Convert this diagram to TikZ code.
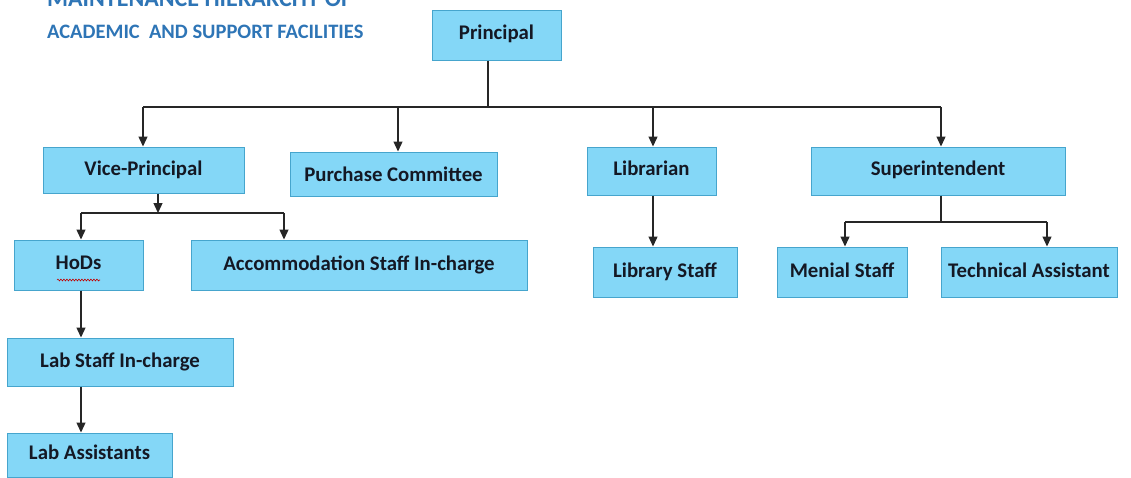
\documentclass[tikz,border=0pt]{standalone}
\usepackage{fontspec}
\setmainfont{Carlito}
\usetikzlibrary{arrows.meta,decorations.pathmorphing}
\definecolor{boxfill}{RGB}{132,215,247}
\definecolor{boxline}{RGB}{70,165,205}
\definecolor{titleblue}{RGB}{46,117,182}
\definecolor{boxtext}{RGB}{20,24,36}
\begin{document}
\begin{tikzpicture}[x=1pt,y=-1pt,
  box/.style={draw=boxline, line width=1pt, fill=boxfill, inner sep=0pt,
    font=\fontsize{20.8}{24}\selectfont\bfseries, text=boxtext},
  link/.style={draw=black!85, line width=1.3pt},
  arr/.style={link, -{Triangle[length=10pt,width=9pt]}},
  titletext/.style={font=\fontsize{20.5}{24}\selectfont\bfseries, text=titleblue}]
\useasboundingbox (0,0) rectangle (1131,477);
\clip (0,0) rectangle (1131,477);
% title
\node[titletext, font=\fontsize{24}{28}\selectfont\bfseries, anchor=base west, inner sep=0pt] (t1) at (47,6) {MAINTENANCE HIERARCHY OF};
\node[titletext, anchor=west, inner sep=0pt] (t2) at (47,32) {ACADEMIC\ \ AND SUPPORT FACILITIES};
% boxes
\node[box, minimum width=129pt, minimum height=50pt] (P) at (496.5,35) {\raisebox{5pt}{Principal}};
\node[box, minimum width=201pt, minimum height=46pt] (VP) at (143.5,170) {\raisebox{4pt}{Vice-Principal}};
\node[box, minimum width=207pt, minimum height=44pt] (PC) at (393.5,174) {Purchase Committee};
\node[box, minimum width=129pt, minimum height=48pt] (LIB) at (651.5,171) {\raisebox{5pt}{Librarian}};
\node[box, minimum width=254pt, minimum height=48pt] (SUP) at (938,171) {\raisebox{5pt}{Superintendent}};
\node[box, minimum width=129pt, minimum height=50pt] (HOD) at (78.5,265) {\raisebox{4pt}{HoDs}};
\node[box, minimum width=336pt, minimum height=50pt] (ACC) at (359,265) {\raisebox{4pt}{Accommodation Staff In-charge}};
\node[box, minimum width=226pt, minimum height=48pt] (LSI) at (120,362) {\raisebox{4pt}{Lab Staff In-charge}};
\node[box, minimum width=165pt, minimum height=44pt] (LA) at (89.5,455) {\raisebox{5pt}{Lab Assistants}};
\node[box, minimum width=144pt, minimum height=50pt] (LS) at (665,272) {\raisebox{3pt}{Library Staff}};
\node[box, minimum width=130pt, minimum height=50pt] (MS) at (842,272) {\raisebox{3pt}{Menial Staff}};
\node[box, minimum width=176pt, minimum height=50pt] (TA) at (1029,272) {\raisebox{3pt}{Technical Assistant}};
% spell-check underline
\draw[red!75!black, line width=0.6pt, decorate, decoration={snake, amplitude=0.9pt, segment length=3pt}] (57,280) -- (100,280);
% bus from Principal
\coordinate (pb) at (488,107);
\coordinate (b1) at (143,107);
\coordinate (b2) at (398,107);
\coordinate (b3) at (653,107);
\coordinate (b4) at (941,107);
\draw[link] (P.south -| pb) -- (pb);
\draw[link] (b1) -- (b4);
\draw[arr] (b1) -- (b1 |- VP.north);
\draw[arr] (b2) -- (b2 |- PC.north);
\draw[arr] (b3) -- (b3 |- LIB.north);
\draw[arr] (b4) -- (b4 |- SUP.north);
% Vice-Principal branch
\coordinate (vb) at (158,213);
\coordinate (h1) at (81,213);
\coordinate (h2) at (284,213);
\draw[arr] (VP.south -| vb) -- (vb);
\draw[link] (h1) -- (h2);
\draw[arr] (h1) -- (h1 |- HOD.north);
\draw[arr] (h2) -- (h2 |- ACC.north);
\coordinate (hx) at (81,0);
\draw[arr] (HOD.south -| hx) -- (hx |- LSI.north);
\draw[arr] (LSI.south -| hx) -- (hx |- LA.north);
% Librarian
\draw[arr] (LIB.south -| b3) -- (b3 |- LS.north);
% Superintendent branch
\coordinate (sb) at (941,222);
\coordinate (s1) at (845,222);
\coordinate (s2) at (1047,222);
\draw[link] (SUP.south -| sb) -- (sb);
\draw[link] (s1) -- (s2);
\draw[arr] (s1) -- (s1 |- MS.north);
\draw[arr] (s2) -- (s2 |- TA.north);
\end{tikzpicture}
\end{document}
